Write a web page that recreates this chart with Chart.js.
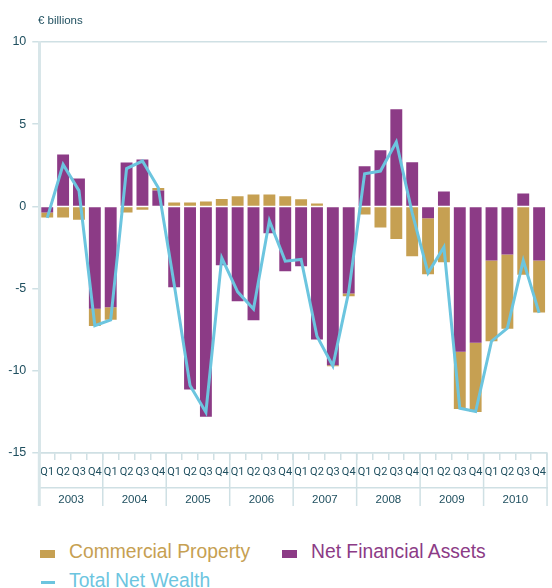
<!DOCTYPE html>
<html>

<head>
    <title>Net Wealth</title>
    <script src="https://cdn.jsdelivr.net/npm/chart.js@4.4.0/dist/chart.umd.min.js"></script>
    <style>
        body {
            margin: 0;
            background: #ffffff;
            font-family: "Liberation Sans", Arial, sans-serif;
        }

        #wrap {
            position: relative;
            width: 552px;
            height: 588px;
            overflow: hidden;
        }

        #chart {
            position: absolute;
            left: 0;
            top: 0;
        }

        .unit {
            position: absolute;
            left: 38px;
            top: 15px;
            font-size: 11.5px;
            line-height: 1;
            color: #1f4f5f;
        }

        .key {
            position: absolute;
            font-size: 19.3px;
            line-height: 1;
            white-space: nowrap;
        }

        .swatch {
            position: absolute;
        }
    </style>
</head>

<body>
    <div id="wrap">
        <canvas id="chart" width="552" height="510"></canvas>
        <div class="unit">€ billions</div>

        <div class="swatch" style="left:40px; top:550px; width:15px; height:8px; background:#c6a052"></div>
        <div class="key" style="left:69px; top:542px; color:#c6a052">Commercial Property</div>
        <div class="swatch" style="left:282px; top:550px; width:15px; height:8px; background:#8c3b86"></div>
        <div class="key" style="left:311px; top:542px; color:#8c3b86">Net Financial Assets</div>
        <div class="swatch" style="left:41px; top:581px; width:14px; height:3px; background:#6cc5df"></div>
        <div class="key" style="left:69px; top:571px; color:#6cc5df">Total Net Wealth</div>
    </div>

    <script>
        const years = ['2003', '2004', '2005', '2006', '2007', '2008', '2009', '2010'];
        const quarters = ['Q1', 'Q2', 'Q3', 'Q4'];

        // € billions, one value per quarter 2003 Q1 .. 2010 Q4
        const netFinancialAssets = [
            -0.37, 3.15, 1.69, -6.23,
            -6.14, 2.67, 2.85, 0.96,
            -4.92, -11.14, -12.79, -3.58,
            -5.77, -6.93, -1.63, -3.94,
            -3.64, -8.09, -9.67, -5.30,
            2.44, 3.41, 5.91, 2.68,
            -0.72, 0.91, -8.84, -8.29,
            -3.29, -2.93, 0.79, -3.29
        ];
        const commercialProperty = [
            -0.30, -0.67, -0.81, -1.04,
            -0.75, -0.37, -0.20, 0.16,
            0.23, 0.24, 0.30, 0.45,
            0.61, 0.73, 0.73, 0.61,
            0.43, 0.18, -0.06, -0.16,
            -0.49, -1.28, -1.99, -3.03,
            -3.40, -3.40, -3.48, -4.21,
            -4.92, -4.51, -4.15, -3.17
        ];
        const totalNetWealth = [
            -0.70, 2.55, 0.96, -7.26,
            -6.90, 2.30, 2.76, 1.14,
            -4.74, -10.90, -12.52, -3.13,
            -5.20, -6.24, -0.87, -3.33,
            -3.23, -7.90, -9.70, -5.20,
            1.98, 2.15, 3.92, -0.39,
            -4.05, -2.48, -12.28, -12.48,
            -8.20, -7.40, -3.29, -6.48
        ];

        const labels = [];
        years.forEach(y => quarters.forEach(q => labels.push(q)));

        const textColor = '#1f4f5f';
        const gridColor = '#cfe0e4';
        const axisColor = '#d8e6e9';

        // long separators between the years, through both label rows
        const yearLines = {
            id: 'yearLines',
            afterDraw(chart) {
                const x = chart.scales.x, x2 = chart.scales.x2, ctx = chart.ctx;
                const step = (x.right - x.left) / labels.length;
                ctx.save();
                for (let k = 0; k <= labels.length; k += 4) {
                    const px = x.left + k * step;
                    ctx.strokeStyle = k === 0 ? axisColor : gridColor;
                    ctx.lineWidth = k === 0 ? 3 : 1.5;
                    ctx.beginPath();
                    ctx.moveTo(px, x.top);
                    ctx.lineTo(px, x2.bottom);
                    ctx.stroke();
                }
                ctx.restore();
            }
        };

        new Chart(document.getElementById('chart'), {
            type: 'bar',
            data: {
                labels: labels,
                datasets: [
                    {
                        label: 'Net Financial Assets',
                        data: netFinancialAssets,
                        backgroundColor: '#8c3b86',
                        stack: 'parts',
                        order: 1,
                        barPercentage: 0.75,
                        categoryPercentage: 1
                    },
                    {
                        label: 'Commercial Property',
                        data: commercialProperty,
                        backgroundColor: '#c6a052',
                        stack: 'parts',
                        order: 1,
                        barPercentage: 0.75,
                        categoryPercentage: 1
                    },
                    {
                        type: 'line',
                        label: 'Total Net Wealth',
                        data: totalNetWealth,
                        borderColor: '#6cc5df',
                        borderWidth: 3,
                        pointRadius: 0,
                        tension: 0,
                        stack: 'total',
                        order: 0
                    }
                ]
            },
            options: {
                responsive: false,
                animation: false,
                devicePixelRatio: 1,
                layout: { padding: { top: 42, right: 0.5, bottom: 4, left: 0 } },
                plugins: {
                    legend: { display: false },
                    tooltip: { enabled: false }
                },
                scales: {
                    x: {
                        type: 'category',
                        stacked: true,
                        offset: true,
                        weight: 0,
                        grid: { offset: true, drawOnChartArea: false, tickLength: 7, color: gridColor, lineWidth: 1.5 },
                        border: { color: gridColor, width: 1.5 },
                        ticks: { autoSkip: false, maxRotation: 0, padding: 6, color: textColor, font: { family: 'Roboto, "Liberation Sans", sans-serif', size: 11 } },
                        afterFit: s => { s.height = 35; }
                    },
                    x2: {
                        type: 'category',
                        labels: years,
                        position: 'bottom',
                        offset: true,
                        weight: 1,
                        grid: { offset: true, drawOnChartArea: false, drawTicks: false, color: 'rgba(0,0,0,0)' },
                        border: { color: gridColor, width: 1.5 },
                        ticks: { padding: 5, color: textColor, font: { family: '"Liberation Sans", Arial, sans-serif', size: 11.5 } },
                        afterFit: s => { s.height = 18; }
                    },
                    y: {
                        stacked: true,
                        min: -15,
                        max: 10,
                        ticks: { stepSize: 5, padding: 6, color: textColor, font: { family: '"Liberation Sans", Arial, sans-serif', size: 12.5 } },
                        grid: {
                            color: c => (c.tick && (c.tick.value === 10 || c.tick.value === -15)) ? gridColor : 'rgba(0,0,0,0)',
                            tickColor: gridColor,
                            tickLength: 7,
                            lineWidth: 1.5
                        },
                        border: { color: axisColor, width: 3 },
                        afterFit: s => { s.width = 39.3; }
                    }
                }
            },
            plugins: [yearLines]
        });
    </script>
</body>

</html>
